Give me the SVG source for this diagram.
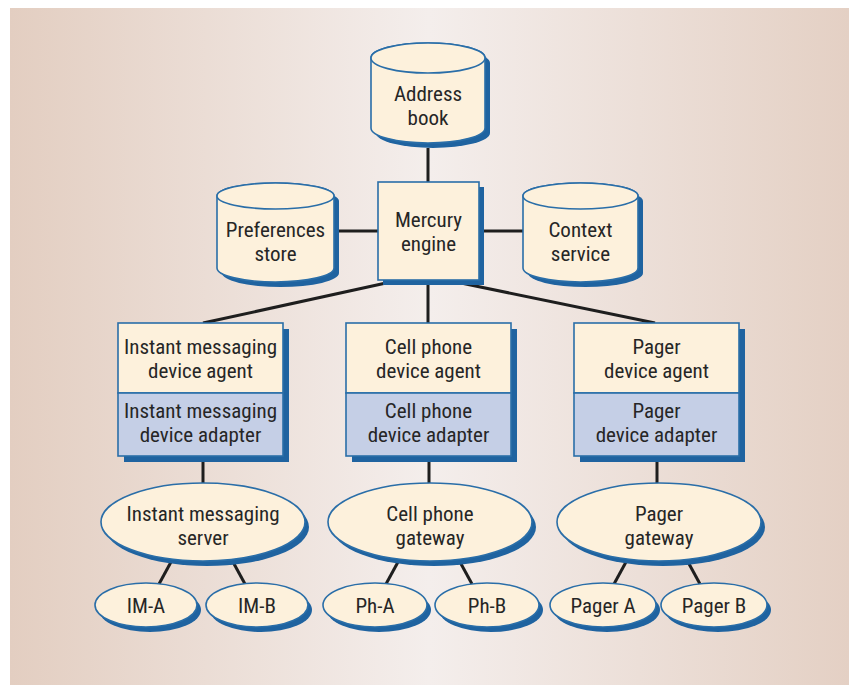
<svg xmlns="http://www.w3.org/2000/svg" width="849" height="685" viewBox="0 0 849 685">
<defs>
<linearGradient id="bg" x1="0" y1="0" x2="1" y2="0">
<stop offset="0" stop-color="#e3cec1"/>
<stop offset="0.5" stop-color="#f4eeec"/>
<stop offset="1" stop-color="#e4d0c4"/>
</linearGradient>
</defs>
<style>
.sh{fill:#1f63a0;stroke:none}
.cr{fill:#fdf1dc;stroke:#2a6ea8;stroke-width:1.6}
.ad{fill:#c5cfe6;stroke:#2a6ea8;stroke-width:1.6}
.ln{stroke:#1e1e1e;stroke-width:3;fill:none}
text{font-family:"Liberation Sans Narrow","Roboto Condensed","Liberation Sans",Arial,sans-serif;font-size:21px;fill:#262626;text-anchor:middle}
</style>
<rect x="10" y="8" width="839" height="677" fill="url(#bg)"/>
<g id="connectors">
<line class="ln" x1="428" y1="148" x2="428" y2="182"/>
<line class="ln" x1="334" y1="231" x2="378" y2="231"/>
<line class="ln" x1="479" y1="231" x2="523" y2="231"/>
<line class="ln" x1="386" y1="283" x2="203" y2="323"/>
<line class="ln" x1="428" y1="283" x2="428" y2="323"/>
<line class="ln" x1="461" y1="283" x2="655" y2="323"/>
<line class="ln" x1="203" y1="462" x2="203" y2="484"/>
<line class="ln" x1="429" y1="462" x2="429" y2="484"/>
<line class="ln" x1="657" y1="462" x2="657" y2="484"/>
<line class="ln" x1="171" y1="562" x2="159" y2="584"/>
<line class="ln" x1="233" y1="562" x2="245" y2="584"/>
<line class="ln" x1="398" y1="562" x2="386" y2="584"/>
<line class="ln" x1="460" y1="562" x2="472" y2="584"/>
<line class="ln" x1="626" y1="562" x2="614" y2="584"/>
<line class="ln" x1="688" y1="562" x2="700" y2="584"/>
</g>
<g id="address-book">
<path class="sh" d="M376,63 A57,15 0 0 1 490,63 L490,133 A57,15 0 0 1 376,133 Z"/>
<path class="cr" d="M371,58 A57,15 0 0 1 485,58 L485,128 A57,15 0 0 1 371,128 Z"/>
<ellipse class="cr" cx="428" cy="58" rx="57" ry="15"/>
<text x="428" y="101">Address</text>
<text x="428" y="125">book</text>
</g>
<g id="preferences-store">
<path class="sh" d="M222,201 A58.5,13 0 0 1 339,201 L339,273 A58.5,14 0 0 1 222,273 Z"/>
<path class="cr" d="M217,196 A58.5,13 0 0 1 334,196 L334,268 A58.5,14 0 0 1 217,268 Z"/>
<ellipse class="cr" cx="275.5" cy="196" rx="58.5" ry="13"/>
<text x="275.5" y="237">Preferences</text>
<text x="275.5" y="261">store</text>
</g>
<g id="mercury-engine">
<rect class="sh" x="383" y="187" width="101" height="98"/>
<rect class="cr" x="378" y="182" width="101" height="98"/>
<text x="428.5" y="227">Mercury</text>
<text x="428.5" y="251">engine</text>
</g>
<g id="context-service">
<path class="sh" d="M528,201 A57.5,13 0 0 1 643,201 L643,273 A57.5,14 0 0 1 528,273 Z"/>
<path class="cr" d="M523,196 A57.5,13 0 0 1 638,196 L638,268 A57.5,14 0 0 1 523,268 Z"/>
<ellipse class="cr" cx="580.5" cy="196" rx="57.5" ry="13"/>
<text x="580.5" y="237">Context</text>
<text x="580.5" y="261">service</text>
</g>
<g id="im-agent">
<rect class="sh" x="124" y="329" width="165" height="133"/>
<rect class="cr" x="118" y="323" width="165" height="70"/>
<rect class="ad" x="118" y="393" width="165" height="63"/>
<text x="200.5" y="354">Instant messaging</text>
<text x="200.5" y="378">device agent</text>
<text x="200.5" y="418">Instant messaging</text>
<text x="200.5" y="442">device adapter</text>
</g>
<g id="cell-agent">
<rect class="sh" x="352" y="329" width="165" height="133"/>
<rect class="cr" x="346" y="323" width="165" height="70"/>
<rect class="ad" x="346" y="393" width="165" height="63"/>
<text x="428.5" y="354">Cell phone</text>
<text x="428.5" y="378">device agent</text>
<text x="428.5" y="418">Cell phone</text>
<text x="428.5" y="442">device adapter</text>
</g>
<g id="pager-agent">
<rect class="sh" x="580" y="329" width="165" height="133"/>
<rect class="cr" x="574" y="323" width="165" height="70"/>
<rect class="ad" x="574" y="393" width="165" height="63"/>
<text x="656.5" y="354">Pager</text>
<text x="656.5" y="378">device agent</text>
<text x="656.5" y="418">Pager</text>
<text x="656.5" y="442">device adapter</text>
</g>
<g id="im-server">
<ellipse class="sh" cx="207" cy="527" rx="102" ry="39"/>
<ellipse class="cr" cx="203" cy="522" rx="102" ry="39"/>
<text x="203" y="521">Instant messaging</text>
<text x="203" y="545">server</text>
</g>
<g id="cell-gateway">
<ellipse class="sh" cx="434" cy="527" rx="102" ry="39"/>
<ellipse class="cr" cx="430" cy="522" rx="102" ry="39"/>
<text x="430" y="521">Cell phone</text>
<text x="430" y="545">gateway</text>
</g>
<g id="pager-gateway">
<ellipse class="sh" cx="663" cy="527" rx="102" ry="39"/>
<ellipse class="cr" cx="659" cy="522" rx="102" ry="39"/>
<text x="659" y="521">Pager</text>
<text x="659" y="545">gateway</text>
</g>
<g id="im-a">
<ellipse class="sh" cx="150" cy="610" rx="51" ry="22"/>
<ellipse class="cr" cx="146" cy="605" rx="51" ry="22"/>
<text x="146" y="613">IM-A</text>
</g>
<g id="im-b">
<ellipse class="sh" cx="261" cy="610" rx="51" ry="22"/>
<ellipse class="cr" cx="257" cy="605" rx="51" ry="22"/>
<text x="257" y="613">IM-B</text>
</g>
<g id="ph-a">
<ellipse class="sh" cx="379" cy="610" rx="52" ry="22"/>
<ellipse class="cr" cx="375" cy="605" rx="52" ry="22"/>
<text x="375" y="613">Ph-A</text>
</g>
<g id="ph-b">
<ellipse class="sh" cx="491" cy="610" rx="52" ry="22"/>
<ellipse class="cr" cx="487" cy="605" rx="52" ry="22"/>
<text x="487" y="613">Ph-B</text>
</g>
<g id="pager-a">
<ellipse class="sh" cx="607" cy="610" rx="53" ry="22"/>
<ellipse class="cr" cx="603" cy="605" rx="53" ry="22"/>
<text x="603" y="613">Pager A</text>
</g>
<g id="pager-b">
<ellipse class="sh" cx="718" cy="610" rx="53" ry="22"/>
<ellipse class="cr" cx="714" cy="605" rx="53" ry="22"/>
<text x="714" y="613">Pager B</text>
</g>
</svg>
